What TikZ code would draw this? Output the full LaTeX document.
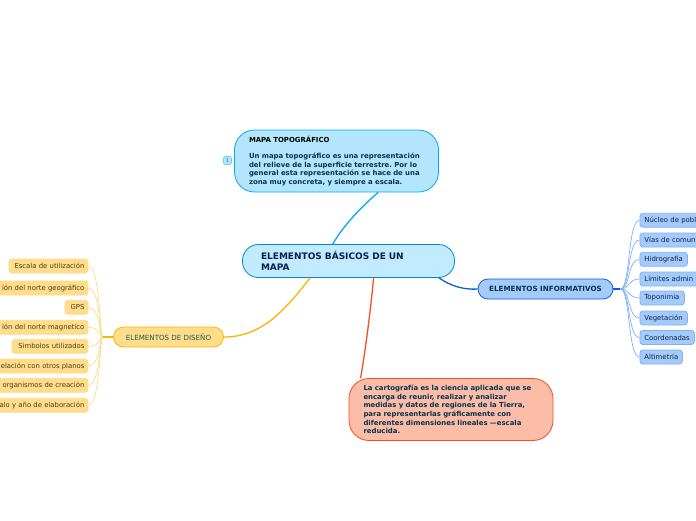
\documentclass[tikz,border=0pt]{standalone}
\usepackage{fontspec}
\setmainfont{DejaVu Sans}
\usetikzlibrary{calc}
\frenchspacing
\definecolor{ctopf}{HTML}{B3E5FC}\definecolor{ctopd}{HTML}{03A9F4}
\definecolor{cmainf}{HTML}{C2EBFF}\definecolor{cmaind}{HTML}{0288D1}
\definecolor{cyelf}{HTML}{FFDD8A}\definecolor{cyeld}{HTML}{FFB300}
\definecolor{cyell}{HTML}{FFD98A}
\definecolor{cbluf}{HTML}{A4CBFC}\definecolor{cblud}{HTML}{0B5FD8}
\definecolor{cblul}{HTML}{7FB0F5}
\definecolor{credf}{HTML}{FBBCA8}\definecolor{credd}{HTML}{F4511E}
\definecolor{cdark}{HTML}{06344A}\definecolor{cnavy}{HTML}{0A2050}
\definecolor{cbrown}{HTML}{4A3A20}\definecolor{cgreen}{HTML}{1F5A50}
\tikzset{
 x=1pt,y=-1pt,
 leafy/.style={fill=cyelf,draw=cyell,line width=.8pt,rounded corners=3pt,minimum height=14pt,inner ysep=0pt,inner xsep=3.5pt,font=\fontsize{6.85}{8}\selectfont,text=cbrown,align=right,anchor=east},
 leafb/.style={fill=cbluf,draw=cblul,line width=.8pt,rounded corners=3pt,minimum height=14pt,inner ysep=0pt,inner xsep=4.5pt,font=\fontsize{6.9}{8}\selectfont,text=cnavy,align=left,anchor=west},
 lky/.style={cyell,line width=.7pt},
 lkb/.style={cblul,line width=.7pt},
 bigbox/.style={line width=.8pt,rounded corners=20pt,minimum width=204pt,minimum height=62pt,inner ysep=0pt,inner xsep=14.5pt,text width=175pt,align=left,font=\bfseries\fontsize{6.92}{8.6}\selectfont},
 pillbox/.style={line width=.8pt,rounded corners=10pt,minimum height=20pt,inner sep=0pt,font=\fontsize{7.1}{8}\selectfont},
 mainlink/.style={line width=1.3pt},
}
\begin{document}
\begin{tikzpicture}
\useasboundingbox (0,0) rectangle (696,520);
\clip (0,0) rectangle (696,520);
% main nodes
\node[bigbox,fill=ctopf,draw=ctopd,text=cdark] (top) at (336.5,161) {\textcolor{black}{MAPA TOPOGRÁFICO}\\[7.8pt]Un mapa topográfico es una representación\\del relieve de la superficie terrestre. Por lo\\general esta representación se hace de una\\zona muy concreta, y siempre a escala.};
\node[fill=ctopf,draw=ctopd!60,line width=.6pt,rounded corners=2pt,minimum size=8pt,inner sep=0pt,font=\fontsize{5}{6}\selectfont,text=ctopd!70!black] (num) at (227.5,160.5) {1};
\node[fill=cmainf,draw=cmaind,line width=.8pt,rounded corners=16pt,minimum width=212pt,minimum height=33pt,inner ysep=0pt,inner xsep=18.5pt,text width=175pt,align=left,text=cnavy,font=\bfseries\fontsize{9}{11}\selectfont] (main) at (348.5,261) {ELEMENTOS BÁSICOS DE UN\\MAPA};
\node[pillbox,fill=cyelf,draw=cyeld,text=cgreen,minimum width=110pt] (dis) at (168.5,337) {ELEMENTOS DE DISEÑO};
\node[pillbox,fill=cbluf,draw=cblud,text=cdark,minimum width=135pt,font=\bfseries\fontsize{7.17}{8}\selectfont] (inf) at (545.5,289) {ELEMENTOS INFORMATIVOS};
\node[bigbox,fill=credf,draw=credd,text=cdark] (red) at (451,409.5) {La cartografía es la ciencia aplicada que se\\encarga de reunir, realizar y analizar\\medidas y datos de regiones de la Tierra,\\para representarlas gráficamente con\\diferentes dimensiones lineales —escala\\reducida.};
% connector ends and hubs
\coordinate (ct1) at ($(main.north west)+(90.5,0)$);
\coordinate (ct2) at ($(top.south west)+(144,0)$);
\coordinate (cy1) at ($(main.south west)+(68,0)$);
\coordinate (cb1) at ($(main.south west)+(197,0)$);
\coordinate (cr1) at ($(main.south west)+(131.5,0)$);
\coordinate (cr2) at ($(red.north west)+(12,0)$);
\coordinate (hy) at ($(dis.west)+(-10.5,0)$);
\coordinate (hb) at ($(inf.east)+(7,0)$);
% main links
\draw[ctopd,mainlink] (ct1) .. controls +(12,-20) and +(-18,16) .. (ct2);
\draw[cyeld,mainlink] (cy1) .. controls +(-25,32) and +(38,0) .. (dis.east);
\draw[cblud,mainlink] (cb1) .. controls +(10,7) and +(-16,1) .. (inf.west);
\draw[credd,mainlink] (cr1) .. controls +(-3,32) and +(5,-29) .. (cr2);
\draw[cyeld,mainlink] (dis.west) -- (hy);
\draw[cblud,mainlink] (inf.east) -- (hb);
% yellow leaves
\foreach \n/\yy/\w/\t in {a/266/79/Escala de utilización,b/288/130/ión del norte geográfico,c/307.3/23/GPS,d/327.3/130/ión del norte magnetico,e/346.3/76/Simbolos utilizados,f/366/130/elación con otros planos,g/385.3/130/organismos de creación,h/405.3/130/alo y año de elaboración}{
 \node[leafy,text width=\w pt-7pt] (y\n) at (88.3,\yy) {\t};
 \draw[lky] (hy) .. controls +(-3,0) and +(12,0) .. (y\n.east);
}
% blue leaves
\foreach \n/\yy/\w/\t in {a/220.3/100/Núcleo de pobl,b/240/100/Vías de comun,c/259.3/47.5/Hidrografía,d/279/100/Límites admin,e/298/44.5/Toponimia,f/318/47.5/Vegetación,g/337.5/54.5/Coordenadas,h/357/42.5/Altimetría}{
 \node[leafb,text width=\w pt-9pt] (b\n) at (639.5,\yy) {\t};
 \draw[lkb] (hb) .. controls +(10,0) and +(-12,0) .. (b\n.west);
}
\end{tikzpicture}
\end{document}
